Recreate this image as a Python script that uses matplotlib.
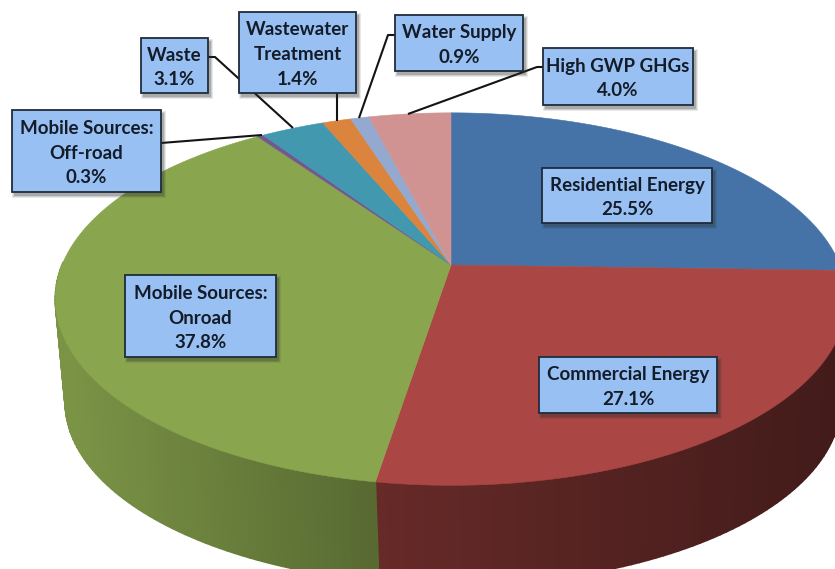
import numpy as np
import matplotlib
matplotlib.use('Agg')
import matplotlib.pyplot as plt
import matplotlib.patches as patches

# Chart data
categories = ['Residential Energy', 'Commercial Energy', 'Mobile Sources:\nOnroad',
              'Mobile Sources:\nOff-road', 'Waste', 'Wastewater\nTreatment',
              'Water Supply', 'High GWP GHGs']
values = [25.5, 27.1, 37.8, 0.3, 3.1, 1.4, 0.9, 4.0]
colors = ['#4572A7', '#AA4643', '#89A54E', '#71588F', '#4198AF', '#DB843D', '#93A9CF', '#D19392']

# Label box placement in image pixels: left, top, right, bottom
boxes = [(542, 168, 712, 223), (539, 357, 717, 413), (125, 275, 276, 357),
         (12, 110, 161, 192), (141, 38, 208, 93), (239, 12, 356, 93),
         (395, 15, 523, 71), (543, 48, 693, 105)]
leaders = [None, None, None,
           [(161, 143), (262, 135)],
           [(208, 57), (215, 57), (293, 128)],
           [(337, 93), (337, 121)],
           [(395, 35), (388, 35), (359, 118)],
           [(543, 67), (537, 67), (408, 114)]]

# Perspective of the pie, image pixels
cx, cy = 451, 265
rx, ry, k = 389, 180, 0.183
depth, bottom_scale, bottom_cx = 104, 0.98, 453


def project(theta, bottom=False):
    u, v = np.sin(theta), np.cos(theta)
    x = rx * u / (1 + k * v)
    y = -ry * v / (1 + k * v)
    if bottom:
        return bottom_cx + bottom_scale * x, cy + depth + bottom_scale * y
    return cx + x, cy + y


def shade(x):
    return np.interp(x, [70, 373, 380, 835], [0.89, 0.64, 0.60, 0.39])


fig = plt.figure(figsize=(8.35, 5.69), dpi=100)
ax = fig.add_axes([0, 0, 1, 1])
ax.set_xlim(0, 835)
ax.set_ylim(569, 0)
ax.axis('off')

edges = np.cumsum([0] + values) / sum(values) * 2 * np.pi

# Sides first, then the top faces over them
for i, color in enumerate(colors):
    rgb = np.array(matplotlib.colors.to_rgb(color))
    steps = max(2, int((edges[i + 1] - edges[i]) / 0.02))
    t = np.linspace(edges[i], edges[i + 1], steps + 1)
    xt, yt = project(t)
    xb, yb = project(t, bottom=True)
    for j in range(steps):
        # back part of the rim stays hidden behind the top face
        if np.cos(t[j]) > 0.0:
            continue
        c = rgb * shade((xt[j] + xt[j + 1]) / 2)
        ax.fill([xt[j], xt[j + 1], xb[j + 1], xb[j]], [yt[j], yt[j + 1], yb[j + 1], yb[j]],
                color=c, lw=1.2, zorder=1)

for i, color in enumerate(colors):
    t = np.linspace(edges[i], edges[i + 1], 200)
    x, y = project(t)
    ax.fill(np.r_[cx, x], np.r_[cy, y], color=color, lw=0.4, zorder=2)

# Leader lines go under the boxes
for pts in leaders:
    if pts:
        ax.plot(*zip(*pts), color='#141414', lw=1.5, zorder=3, solid_capstyle='butt')

# Label boxes with a soft shadow
for name, val, (x0, y0, x1, y1) in zip(categories, values, boxes):
    for grow, alpha in [(2.5, 0.10), (1.5, 0.15), (0.5, 0.22)]:
        ax.add_patch(patches.Rectangle((x0 + 2 - grow, y0 + 3 - grow), x1 - x0 + 2 * grow, y1 - y0 + 2 * grow,
                                       facecolor='#303030', edgecolor='none', alpha=alpha, zorder=4))
    ax.add_patch(patches.Rectangle((x0, y0), x1 - x0, y1 - y0, facecolor='#98C0F2',
                                   edgecolor='#1F2C3C', lw=1.3, zorder=5))
    ax.text((x0 + x1) / 2, (y0 + y1) / 2 + 2, f'{name}\n{val:.1f}%', ha='center', va='center',
            family='Lato', weight='bold', fontsize=13.5, color='#141c2a', linespacing=1.55, zorder=6)

fig.savefig('out.png', dpi=100)
